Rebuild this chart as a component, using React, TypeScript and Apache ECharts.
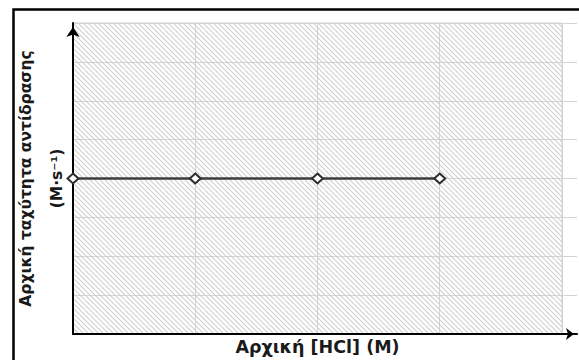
import React, { useEffect, useRef } from "react";
import * as echarts from "echarts";

const xValues = [0, 1, 2, 3];
const yValues = [4, 4, 4, 4];
const xAxisName = "Αρχική [HCl] (M)";
const yAxisName = "Αρχική ταχύτητα αντίδρασης\n(M·s⁻¹)";
const xMin = 0;
const xGridMax = 4;
const xAxisMax = 4.123;
const yMin = 0;
const yMax = 8;

function makeHatch(): HTMLCanvasElement {
  const s = 5;
  const c = document.createElement("canvas");
  c.width = s;
  c.height = s;
  const ctx = c.getContext("2d")!;
  ctx.strokeStyle = "#cdcdcd";
  ctx.lineWidth = 1.1;
  for (let k = -1; k <= 1; k++) {
    ctx.beginPath();
    ctx.moveTo(k * s, 0);
    ctx.lineTo(k * s + s, s);
    ctx.stroke();
  }
  return c;
}

export default function App() {
  const ref = useRef<HTMLDivElement>(null);
  useEffect(() => {
    if (!ref.current) return;
    const chart = echarts.init(ref.current, undefined, { renderer: "svg" });
    const hatch = makeHatch();
    const font = "'DejaVu Sans', 'Open Sans', sans-serif";
    chart.setOption({
      animation: false,
      backgroundColor: "#ffffff",
      grid: {
        left: 73,
        right: 2,
        top: 23,
        bottom: 26,
        containLabel: false,
        outerBoundsMode: "none",
      },
      graphic: [
        {
          type: "rect",
          left: 11,
          top: 7,
          shape: { width: 640, height: 420 },
          style: { fill: "none", stroke: "#000000", lineWidth: 2.5 },
          silent: true,
          z: 100,
        },
      ],
      xAxis: {
        type: "value",
        min: xMin,
        max: xAxisMax,
        interval: 1,
        z: 1,
        axisLabel: { show: false },
        axisTick: { show: false },
        axisLine: {
          show: true,
          symbol: ["none", "arrow"],
          symbolSize: [9, 8],
          symbolOffset: [0, -3],
          lineStyle: { color: "#000000", width: 2 },
        },
        splitLine: { show: true, showMaxLine: false, lineStyle: { color: "#d4d4d4", width: 1 } },
        name: xAxisName,
        nameLocation: "middle",
        nameGap: 4,
        nameTextStyle: {
          fontFamily: font,
          fontWeight: "bold",
          fontSize: 17.5,
          color: "#1a1a1a",
          verticalAlign: "top",
          padding: [0, 15, 0, 0],
        },
      },
      yAxis: {
        type: "value",
        min: yMin,
        max: yMax,
        interval: 1,
        z: 1,
        axisLabel: { show: false },
        axisTick: { show: false },
        axisLine: {
          show: true,
          symbol: ["none", "arrow"],
          symbolSize: [10, 10],
          symbolOffset: [0, -4],
          lineStyle: { color: "#000000", width: 2 },
        },
        splitLine: { show: true, lineStyle: { color: "#d4d4d4", width: 1 } },
        name: yAxisName,
        nameLocation: "middle",
        nameRotate: 90,
        nameGap: 1,
        nameTextStyle: {
          fontFamily: font,
          fontWeight: "bold",
          fontSize: 15.5,
          lineHeight: 31,
          color: "#1a1a1a",
        },
      },
      series: [
        {
          type: "line",
          name: "area",
          data: [],
          z: 0,
          silent: true,
          markArea: {
            silent: true,
            itemStyle: {
              color: { image: hatch, repeat: "repeat", imageWidth: 5, imageHeight: 5 } as any,
              borderColor: "#d4d4d4",
              borderWidth: 1,
            },
            data: [[{ coord: [xMin, yMin] }, { coord: [xGridMax, yMax] }]],
          },
        },
        {
          type: "line",
          name: "rate",
          data: xValues.map((x, i) => [x, yValues[i]]),
          symbol: "diamond",
          symbolSize: [11, 10],
          showSymbol: true,
          lineStyle: { color: "#3c3c3c", width: 2.5 },
          itemStyle: { color: "#ffffff", borderColor: "#2e2e2e", borderWidth: 2 },
          z: 5,
        },
      ],
    });
    return () => chart.dispose();
  }, []);
  return (
    <div
      ref={ref}
      style={{ position: "absolute", left: 0, top: 0, width: 579, height: 360 }}
    />
  );
}
